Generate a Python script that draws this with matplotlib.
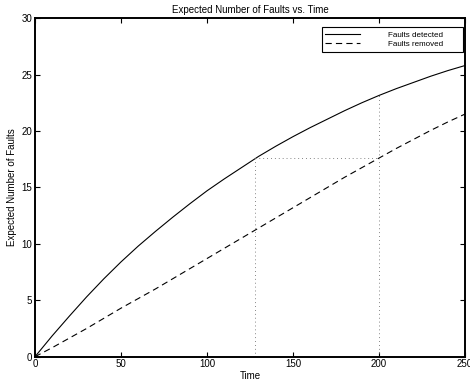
import numpy as np
import matplotlib
matplotlib.use('Agg')
import matplotlib.pyplot as plt

plt.rcParams['font.family'] = ['Liberation Sans', 'DejaVu Sans']
plt.rcParams['lines.scale_dashes'] = False

# values
t = [0, 10, 20, 30, 40, 50, 60, 70, 80, 90, 100, 110, 120, 130, 140, 150,
     160, 170, 180, 190, 200, 210, 220, 230, 240, 250]
detected = [0, 1.85, 3.6, 5.3, 6.9, 8.4, 9.8, 11.1, 12.35, 13.55, 14.7, 15.75,
            16.75, 17.75, 18.65, 19.5, 20.3, 21.05, 21.8, 22.5, 23.15, 23.75,
            24.3, 24.85, 25.35, 25.8]
removed = [0, 0.8, 1.65, 2.5, 3.4, 4.3, 5.15, 6.0, 6.9, 7.8, 8.7, 9.6, 10.5,
           11.4, 12.3, 13.2, 14.1, 15.0, 15.9, 16.75, 17.6, 18.45, 19.25,
           20.05, 20.8, 21.5]

t_mark = 200      # time of interest
t_equal = 128     # time when detected equals removed(t_mark)
y_det = 23.15
y_rem = 17.6

fig = plt.figure(figsize=(4.7, 3.83), dpi=100)
ax = fig.add_axes([0.0745, 0.0687, 0.915, 0.884])

ax.plot(t, detected, color='k', lw=0.8, label='Faults detected')
ax.plot(t, removed, color='k', lw=0.8, ls=(0, (4.5, 3)), label='Faults removed')

dot = dict(color='0.45', lw=0.7, ls=(0, (0.6, 2.2)))
ax.plot([t_mark, t_mark], [0, y_det], **dot)
ax.plot([t_equal, t_mark], [y_rem, y_rem], **dot)
ax.plot([t_equal, t_equal], [0, y_rem], **dot)

ax.set_xlim(0, 250)
ax.set_ylim(0, 30)
ax.set_xticks([0, 50, 100, 150, 200, 250])
ax.set_yticks([0, 5, 10, 15, 20, 25, 30])
ax.tick_params(direction='in', length=3.5, width=0.8, labelsize=7,
               top=True, right=True, pad=2)
for s in ax.spines.values():
    s.set_linewidth(1.4)

ax.set_title('Expected Number of Faults vs. Time', fontsize=7, pad=4)
ax.set_xlabel('Time', fontsize=7, labelpad=1)
ax.set_ylabel('Expected Number of Faults', fontsize=7, labelpad=3)

leg = ax.legend(loc='upper left', bbox_to_anchor=(0.667, 0.8958, 0.328, 0.0768),
                mode='expand', borderaxespad=0, fontsize=5.8, handlelength=4.3,
                handletextpad=3.4, fancybox=False, framealpha=1,
                borderpad=0.45, labelspacing=0.25)
leg.get_frame().set_edgecolor('k')
leg.get_frame().set_linewidth(0.8)

fig.savefig('out.png', dpi=100)
